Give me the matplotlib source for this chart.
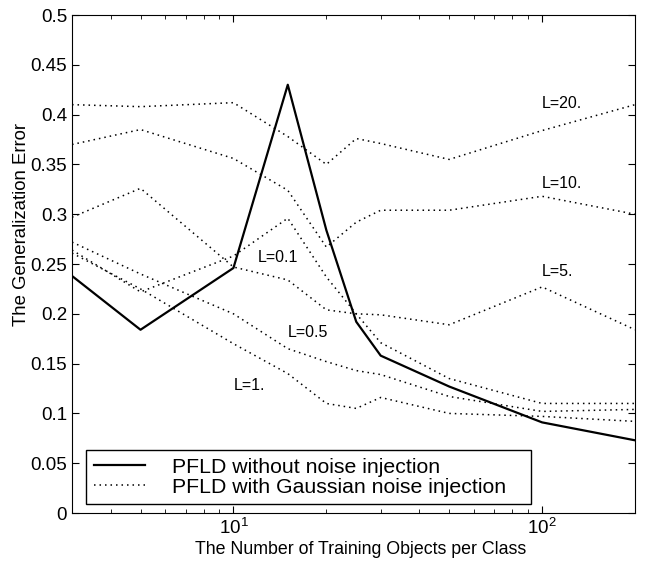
import matplotlib
matplotlib.use('Agg')
import matplotlib.pyplot as plt
import matplotlib.ticker as mticker

plt.rcParams['font.family'] = ['Liberation Sans', 'DejaVu Sans']
plt.rcParams['mathtext.fontset'] = 'custom'
plt.rcParams['mathtext.rm'] = 'Liberation Sans'

# training objects per class
n_train = [3, 5, 10, 15, 20, 25, 30, 50, 100, 200]

# PFLD without noise injection
err_plain = [0.238, 0.184, 0.246, 0.430, 0.284, 0.192, 0.158, 0.127, 0.091, 0.073]

# PFLD with gaussian noise injection, one curve per noise level L
noise_levels = ['L=0.1', 'L=0.5', 'L=1.', 'L=5.', 'L=10.', 'L=20.']
err_noise = [
    [0.264, 0.222, 0.258, 0.296, 0.237, 0.200, 0.171, 0.135, 0.110, 0.110],
    [0.272, 0.240, 0.200, 0.165, 0.152, 0.143, 0.139, 0.117, 0.102, 0.104],
    [0.261, 0.225, 0.170, 0.140, 0.110, 0.105, 0.116, 0.100, 0.097, 0.092],
    [0.297, 0.326, 0.247, 0.234, 0.204, 0.200, 0.199, 0.189, 0.227, 0.184],
    [0.370, 0.385, 0.356, 0.324, 0.267, 0.292, 0.304, 0.304, 0.318, 0.300],
    [0.410, 0.408, 0.412, 0.378, 0.350, 0.376, 0.371, 0.355, 0.384, 0.410],
]
# where each L= tag sits (x, y in data units)
label_x = [12, 15, 10, 100, 100, 100]
label_y = [0.257, 0.181, 0.128, 0.242, 0.331, 0.411]

fig = plt.figure(figsize=(6.46, 5.69), dpi=100)
ax = fig.add_axes([0.1115, 0.0984, 0.8715, 0.8752])

ax.plot(n_train, err_plain, color='black', linewidth=1.6,
        label='PFLD without noise injection')
for i, curve in enumerate(err_noise):
    ax.plot(n_train, curve, color='black', linewidth=1.1, linestyle=(0, (1, 2.6)),
            label='PFLD with Gaussian noise injection' if i == 0 else None)
    ax.text(label_x[i], label_y[i], noise_levels[i], fontsize=11.5,
            ha='left', va='center')

ax.set_xscale('log')
ax.set_xlim(3, 200)
ax.set_ylim(0, 0.5)
ax.set_yticks([i * 0.05 for i in range(11)])
ax.yaxis.set_major_formatter(mticker.FuncFormatter(lambda v, p: '%g' % round(v, 2)))
ax.xaxis.set_minor_formatter(mticker.NullFormatter())

ax.tick_params(which='both', direction='in', top=True, right=True, labelsize=13.5)
ax.tick_params(which='major', length=5)
ax.tick_params(which='minor', length=3)

ax.set_xlabel('The Number of Training Objects per Class', fontsize=12.8)
ax.set_ylabel('The Generalization Error', fontsize=13.4)
ax.xaxis.set_label_coords(0.513, -0.056)
ax.yaxis.set_label_coords(-0.075, 0.58)

leg = ax.legend(loc='lower left', bbox_to_anchor=(0.025, 0.018, 0.79, 0.139),
                mode='expand', fontsize=15.3, handlelength=2.4, handletextpad=1.3,
                borderaxespad=0, fancybox=False, framealpha=1, borderpad=0.35,
                labelspacing=0.05)
leg.get_frame().set_edgecolor('black')
leg.get_frame().set_linewidth(1.0)

fig.savefig('out.png', dpi=100)
